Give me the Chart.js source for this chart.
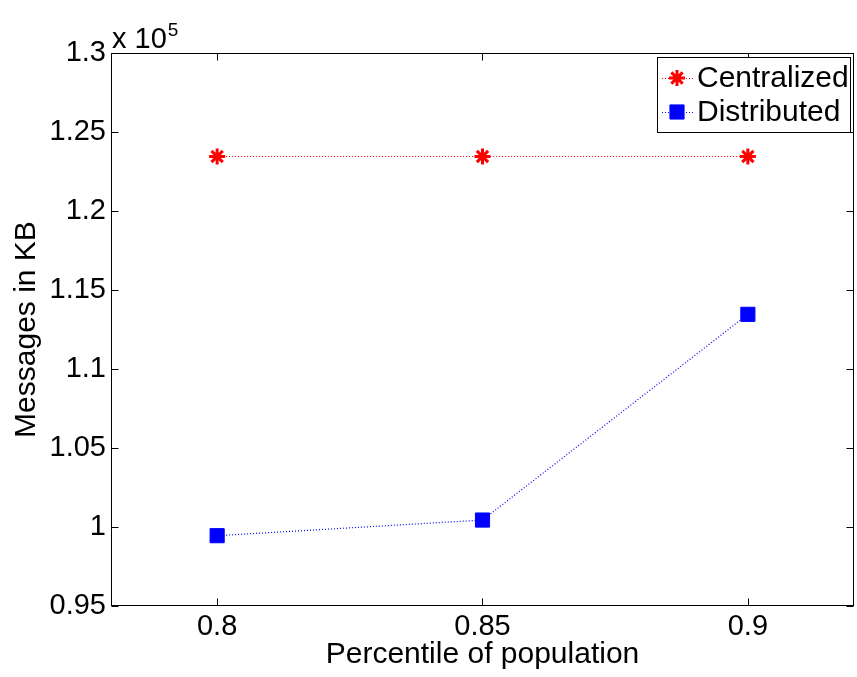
<!DOCTYPE html>
<html>
<head>
<meta charset="utf-8">
<script src="https://cdn.jsdelivr.net/npm/chart.js@4.4.1/dist/chart.umd.min.js"></script>
<style>
  html, body { margin: 0; padding: 0; background: #fff; }
  #wrap { width: 857px; height: 677px; }
</style>
</head>
<body>
<div id="wrap"><canvas id="lineChart" width="857" height="677"></canvas></div>
<script>
// data
var percentiles = [0.8, 0.85, 0.9];
var centralized = [123450, 123450, 123450];
var distributed = [99450, 100440, 113460];
var yTicks = [95000, 100000, 105000, 110000, 115000, 120000, 125000, 130000];
var seriesNames = ["Centralized", "Distributed"];

var FONT = "'Liberation Sans', Arial, Helvetica, sans-serif";

function toPoints(xs, ys) {
    return xs.map(function (x, i) { return { x: x, y: ys[i] }; });
}

// box, inward ticks, exponent label and legend, MATLAB style
var matlabAxes = {
    id: 'matlabAxes',
    afterDraw: function (chart) {
        var ctx = chart.ctx;
        var a = chart.chartArea;
        var xs = chart.scales.x, ys = chart.scales.y;
        var L = Math.round(a.left) + 0.5, R = Math.round(a.right) - 0.5;
        var T = Math.round(a.top) + 0.5, B = Math.round(a.bottom) - 0.5;
        ctx.save();
        ctx.strokeStyle = '#000';
        ctx.lineWidth = 1;
        ctx.strokeRect(L, T, R - L, B - T);

        var tl = 7;
        ctx.beginPath();
        percentiles.forEach(function (v) {
            var px = Math.round(xs.getPixelForValue(v)) + 0.5;
            ctx.moveTo(px, B); ctx.lineTo(px, B - tl);
            ctx.moveTo(px, T); ctx.lineTo(px, T + tl);
        });
        yTicks.forEach(function (v) {
            var py = Math.round(ys.getPixelForValue(v)) + 0.5;
            ctx.moveTo(L, py); ctx.lineTo(L + tl, py);
            ctx.moveTo(R, py); ctx.lineTo(R - tl, py);
        });
        ctx.stroke();

        // exponent
        ctx.fillStyle = '#000';
        ctx.textBaseline = 'alphabetic';
        ctx.textAlign = 'left';
        ctx.font = '29px ' + FONT;
        ctx.fillText('x 10', a.left + 1, a.top - 5);
        var w = ctx.measureText('x 10').width;
        ctx.font = '19px ' + FONT;
        ctx.fillText('5', a.left + 1 + w + 1, a.top - 17);

        // legend
        var bx = 657.5, by = 57.5, bw = 193, bh = 75;
        ctx.fillStyle = '#fff';
        ctx.fillRect(bx, by, bw, bh);
        ctx.strokeStyle = '#000';
        ctx.strokeRect(bx, by, bw, bh);
        var rows = [78, 112];
        chart.data.datasets.forEach(function (ds, i) {
            var y = rows[i];
            ctx.save();
            ctx.strokeStyle = ds.borderColor;
            ctx.lineWidth = 1;
            ctx.setLineDash([1, 2]);
            ctx.beginPath();
            ctx.moveTo(662, y + 0.5); ctx.lineTo(693, y + 0.5);
            ctx.stroke();
            ctx.restore();
            ctx.save();
            ctx.fillStyle = ds.pointBackgroundColor;
            ctx.strokeStyle = ds.pointBorderColor;
            ctx.lineWidth = ds.pointBorderWidth;
            Chart.helpers.drawPoint(ctx, {
                pointStyle: ds.pointStyle, radius: ds.pointRadius, borderWidth: ds.pointBorderWidth, rotation: 0
            }, 677, y);
            ctx.restore();
            ctx.fillStyle = '#000';
            ctx.font = '30px ' + FONT;
            ctx.textBaseline = 'middle';
            ctx.fillText(ds.label, 697, y + 1);
        });
        ctx.restore();
    }
};

function createChart() {
    var ctx = document.getElementById("lineChart").getContext('2d');
    new Chart(ctx, {
        type: 'line',
        data: {
            datasets: [{
                label: seriesNames[0],
                data: toPoints(percentiles, centralized),
                borderColor: "rgba(255,0,0,1)",
                borderWidth: 1.2,
                borderDash: [1, 2],
                pointStyle: 'star',
                pointRadius: 8,
                pointBorderWidth: 3,
                pointBackgroundColor: "rgba(255,0,0,1)",
                pointBorderColor: "rgba(255,0,0,1)",
                tension: 0
            }, {
                label: seriesNames[1],
                data: toPoints(percentiles, distributed),
                borderColor: "rgba(0,0,255,1)",
                borderWidth: 1.2,
                borderDash: [1, 2],
                pointStyle: 'rect',
                pointRadius: 10,
                pointBorderWidth: 1,
                pointBackgroundColor: "rgba(0,0,255,1)",
                pointBorderColor: "rgba(0,0,255,1)",
                tension: 0
            }]
        },
        options: {
            responsive: false,
            animation: false,
            layout: { autoPadding: false, padding: { top: 53, right: 3, left: 0, bottom: 0 } },
            plugins: {
                legend: { display: false },
                tooltip: { enabled: false }
            },
            scales: {
                x: {
                    type: 'linear',
                    min: 0.78,
                    max: 0.92,
                    afterBuildTicks: function (s) {
                        s.ticks = percentiles.map(function (v) { return { value: v }; });
                    },
                    afterFit: function (s) { s.height = 71; },
                    grid: { display: false, drawTicks: false },
                    border: { display: false },
                    ticks: {
                        padding: 4,
                        color: '#000',
                        font: { family: FONT, size: 29, lineHeight: 1.2 },
                        callback: function (v) { return String(v); }
                    },
                    title: {
                        display: true,
                        text: 'Percentile of population',
                        color: '#000',
                        padding: { top: 0, bottom: 4 },
                        font: { family: FONT, size: 30, lineHeight: 1.2 }
                    }
                },
                y: {
                    min: 95000,
                    max: 130000,
                    afterBuildTicks: function (s) {
                        s.ticks = yTicks.map(function (v) { return { value: v }; });
                    },
                    afterFit: function (s) { s.width = 111; },
                    grid: { display: false, drawTicks: false },
                    border: { display: false },
                    ticks: {
                        padding: 5,
                        color: '#000',
                        font: { family: FONT, size: 29, lineHeight: 1.2 },
                        callback: function (v) { return String(Math.round(v / 100) / 1000); }
                    },
                    title: {
                        display: true,
                        text: 'Messages in KB',
                        color: '#000',
                        padding: { top: 9, bottom: 0 },
                        font: { family: FONT, size: 30, lineHeight: 1.2 }
                    }
                }
            }
        },
        plugins: [matlabAxes]
    });
}

createChart();
</script>
</body>
</html>
